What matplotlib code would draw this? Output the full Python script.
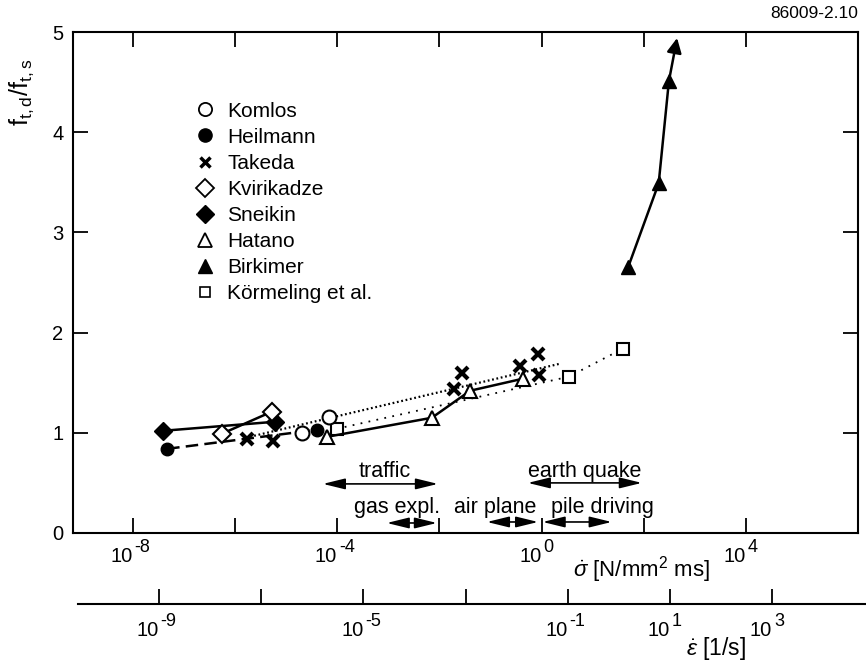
import numpy as np
import matplotlib
matplotlib.use("Agg")
import matplotlib.pyplot as plt
import matplotlib.transforms as mtrans
from matplotlib.lines import Line2D

plt.rcParams['font.family'] = ['Liberation Sans', 'DejaVu Sans']
plt.rcParams['mathtext.fontset'] = 'custom'
plt.rcParams['mathtext.rm'] = 'Liberation Sans'
plt.rcParams['mathtext.it'] = 'Liberation Sans:italic'
plt.rcParams['mathtext.bf'] = 'Liberation Sans:bold'

# daten (sigma-punkt in N/mm2 ms, verhaeltnis f_t,d / f_t,s)
komlos_x = [2.04e-5, 6.9e-5]
komlos_y = [1.00, 1.16]
heilmann_x = [4.7e-8, 4.0e-5]
heilmann_y = [0.84, 1.03]
takeda_x = [1.7e-6, 5.5e-6, 0.019, 0.028, 0.37, 0.85, 0.89]
takeda_y = [0.94, 0.92, 1.44, 1.60, 1.67, 1.79, 1.58]
takeda_fit_x = [1.95e-6, 2.3]
takeda_fit_y = [0.96, 1.69]
kvirikadze_x = [5.5e-7, 5.2e-6]
kvirikadze_y = [0.99, 1.21]
sneikin_x = [3.9e-8, 6.0e-6]
sneikin_y = [1.02, 1.11]
hatano_x = [6.3e-5, 7.1e-3, 0.040, 0.43]
hatano_y = [0.96, 1.15, 1.42, 1.54]
birkimer_x = [49, 195, 309]
birkimer_y = [2.65, 3.49, 4.51]
birkimer_arrow = (447, 4.94)
koermeling_x = [9.8e-5, 3.4, 39]
koermeling_y = [1.04, 1.56, 1.84]

# belastungsbereiche: name, x-start, x-ende, y-pfeil, x-text, y-text
bereiche = [
    ("traffic", 10**-4.28, 10**-2.03, 0.49, 10**-3.07, 0.61),
    ("earth quake", 10**-0.27, 10**1.96, 0.50, 10**0.85, 0.61),
    ("gas expl.", 10**-3.03, 10**-2.05, 0.10, 10**-2.83, 0.25),
    ("air plane", 10**-1.07, 10**-0.07, 0.11, 10**-0.90, 0.25),
    ("pile driving", 10**0.02, 10**1.37, 0.11, 10**1.18, 0.25),
]

sig_ticks = [1e-8, 1e-6, 1e-4, 1e-2, 1e0, 1e2, 1e4]
sig_labels = ["-8", "", "-4", "", "0", "", "4"]
eps_ticks = [1e-9, 1e-7, 1e-5, 1e-3, 1e-1, 1e1, 1e3]
eps_labels = ["-9", "", "-5", "", "-1", "1", "3"]

W, H = 866, 667
fig = plt.figure(figsize=(W / 100, H / 100), dpi=100)
ax = fig.add_axes([73 / W, 1 - 533 / H, 785 / W, 501 / H])

lw = 1.8
ax.plot(sneikin_x, sneikin_y, '-', color='k', lw=lw, marker='D', ms=9, mfc='k', mec='k')
ax.plot(kvirikadze_x, kvirikadze_y, '-', color='k', lw=lw, marker='D', ms=9, mfc='white', mec='k', mew=1.5)
ax.plot(heilmann_x, heilmann_y, color='k', lw=lw, ls=(0, (5, 2.5)), marker='o', ms=9, mfc='k', mec='k')
ax.plot(takeda_fit_x, takeda_fit_y, color='k', lw=1.6, ls=(0, (0.8, 1.2)))
ax.plot(koermeling_x, koermeling_y, color='k', lw=1.3, ls=(0, (1, 3.5)),
        marker='s', ms=8, mfc='white', mec='k', mew=1.5)
ax.plot(hatano_x, hatano_y, '-', color='k', lw=lw, marker='^', ms=10, mfc='white', mec='k', mew=1.5)
ax.plot(komlos_x, komlos_y, ls='none', marker='o', ms=10, mfc='white', mec='k', mew=1.5)
ax.plot(takeda_x, takeda_y, ls='none', marker='x', ms=8, mec='k', mew=3)
ax.plot(birkimer_x, birkimer_y, '-', color='k', lw=lw, marker='^', ms=10, mfc='k', mec='k')
ax.annotate("", xy=birkimer_arrow, xytext=(birkimer_x[-1], birkimer_y[-1]),
            arrowprops=dict(arrowstyle='-|>', color='k', lw=lw, mutation_scale=22,
                            shrinkA=0, shrinkB=0))

for name, x0, x1, ya, xt, yt in bereiche:
    ax.annotate("", xy=(x0, ya), xytext=(x1, ya),
                arrowprops=dict(arrowstyle='<|-|>,head_length=0.9,head_width=0.22',
                                color='k', lw=1.2, mutation_scale=15,
                                shrinkA=0, shrinkB=0))
    ax.text(xt, yt, name, ha='center', va='center', fontsize=15.5)

ax.set_xscale('log')
ax.set_xlim(10**-9.17, 10**6.19)
ax.set_ylim(0, 5)
ax.set_xticks(sig_ticks)
ax.set_xticklabels([""] * len(sig_ticks))
ax.minorticks_off()
ax.set_yticks([0, 1, 2, 3, 4, 5])
ax.tick_params(direction='in', length=11, width=1.3, top=True, right=True,
               labelsize=14.5)
ax.tick_params(axis='y', pad=7)
for s in ax.spines.values():
    s.set_linewidth(1.5)

# hochgestellte exponenten, "10" rechts vom tick, exponent links davon
tr1 = mtrans.blended_transform_factory(ax.transData, fig.transFigure)
for t, e in zip(sig_ticks, sig_labels):
    if e:
        fig.text(t, 1 - 556 / H, "10", transform=tr1, ha='right', va='center', fontsize=14.5)
        fig.text(t * 1.08, 1 - 547 / H, e, transform=tr1, ha='left', va='center', fontsize=13)

handles = [
    Line2D([], [], ls='none', marker='o', ms=9.5, mfc='white', mec='k', mew=1.3),
    Line2D([], [], ls='none', marker='o', ms=9.5, mfc='k', mec='k'),
    Line2D([], [], ls='none', marker='x', ms=7, mec='k', mew=2.5),
    Line2D([], [], ls='none', marker='D', ms=9, mfc='white', mec='k', mew=1.3),
    Line2D([], [], ls='none', marker='D', ms=9, mfc='k', mec='k'),
    Line2D([], [], ls='none', marker='^', ms=10, mfc='white', mec='k', mew=1.3),
    Line2D([], [], ls='none', marker='^', ms=10, mfc='k', mec='k'),
    Line2D([], [], ls='none', marker='s', ms=6.5, mfc='white', mec='k', mew=1.2),
]
names = ["Komlos", "Heilmann", "Takeda", "Kvirikadze", "Sneikin", "Hatano",
         "Birkimer", "Körmeling et al."]
ax.legend(handles, names, loc='upper left', bbox_to_anchor=(0.155, 0.861),
          frameon=False, fontsize=15, handlelength=1.0, handletextpad=0.56,
          labelspacing=0.34, borderpad=0, borderaxespad=0)

# zweite achse fuer dehnrate
ax2 = fig.add_axes([78 / W, 1 - 604 / H, (W - 78) / W, 0.0001])
ax2.set_xscale('log')
ax2.set_xlim(10**-10.585, 10**4.836)
ax2.set_yticks([])
ax2.patch.set_visible(False)
for k in ['top', 'left', 'right']:
    ax2.spines[k].set_visible(False)
ax2.spines['bottom'].set_linewidth(1.5)
ax2.set_xticks(eps_ticks)
ax2.set_xticklabels([""] * len(eps_ticks))
ax2.minorticks_off()
ax2.tick_params(direction='in', length=11, width=1.3)

tr2 = mtrans.blended_transform_factory(ax2.transData, fig.transFigure)
for t, e in zip(eps_ticks, eps_labels):
    if e:
        fig.text(t, 1 - 631 / H, "10", transform=tr2, ha='right', va='center', fontsize=14.5)
        fig.text(t * 1.08, 1 - 622 / H, e, transform=tr2, ha='left', va='center', fontsize=13)

fig.text(642 / W, 1 - 570 / H, r"$\dot{\sigma}$ [N/mm$^{2}$ ms]", ha='center', va='center', fontsize=16)
fig.text(716 / W, 1 - 648 / H, r"$\dot{\varepsilon}$ [1/s]", ha='center', va='center', fontsize=16.5)
fig.text(22 / W, 1 - 92 / H, r"f$_{\mathrm{t,d}}$/f$_{\mathrm{t,s}}$", rotation=90,
         ha='center', va='center', fontsize=18)
fig.text(858 / W, 1 - 13 / H, "86009-2.10", ha='right', va='center', fontsize=12.5)

fig.savefig("out.png", dpi=100)
